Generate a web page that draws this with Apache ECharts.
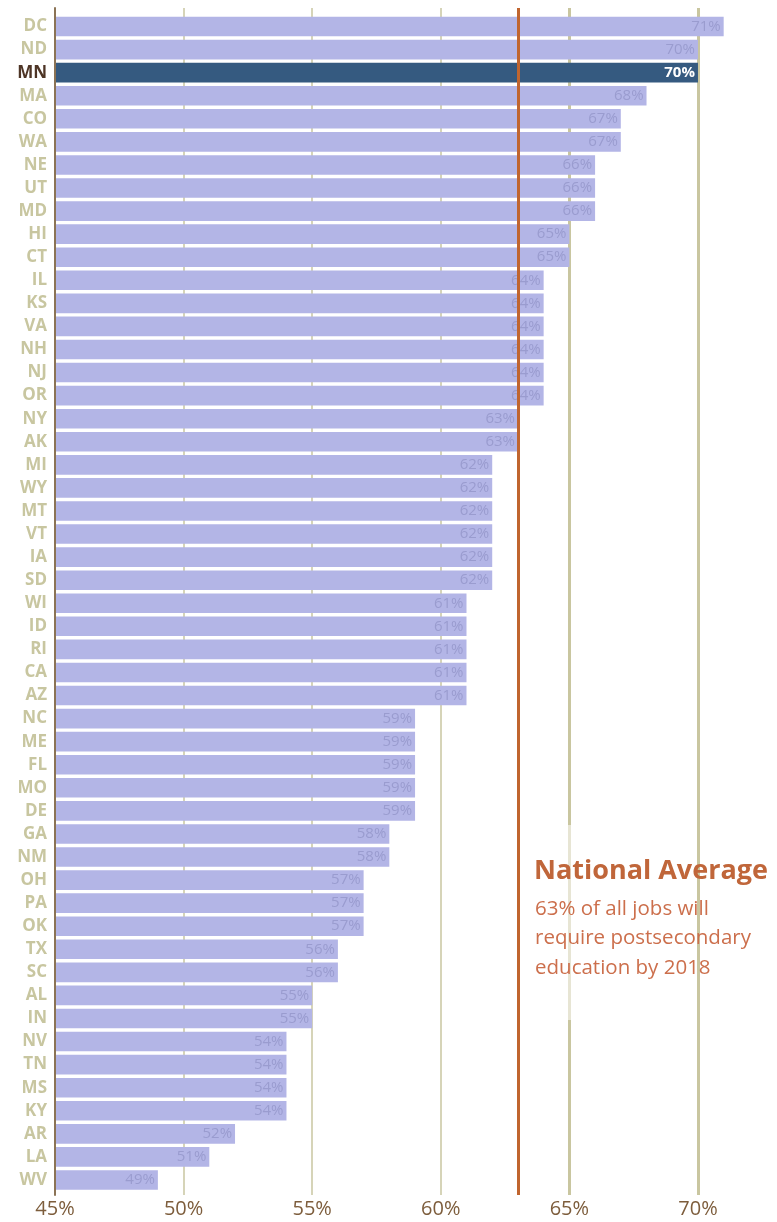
<!DOCTYPE html>
<html>
<head>
<meta charset="utf-8">
<script src="https://cdn.jsdelivr.net/npm/echarts@6/dist/echarts.min.js"></script>
<style>
html,body{margin:0;padding:0;background:#fff;}
#chart{width:777px;height:1222px;}
</style>
</head>
<body>
<div id="chart"></div>
<script>
const states = ['DC','ND','MN','MA','CO','WA','NE','UT','MD','HI','CT','IL','KS','VA','NH','NJ','OR','NY','AK','MI','WY','MT','VT','IA','SD','WI','ID','RI','CA','AZ','NC','ME','FL','MO','DE','GA','NM','OH','PA','OK','TX','SC','AL','IN','NV','TN','MS','KY','AR','LA','WV'];
const values = [71,70,70,68,67,67,66,66,66,65,65,64,64,64,64,64,64,63,63,62,62,62,62,62,62,61,61,61,61,61,59,59,59,59,59,58,58,57,57,57,56,56,55,55,54,54,54,54,52,51,49];
const highlight = 'MN';
const tickValues = [45,50,55,60,65,70];
const nationalAverage = 63;
const noteTitle = 'National Average';
const noteLines = ['63% of all jobs will','require postsecondary','education by 2018'];

const FONT = 'Open Sans';
const GRIDC = '#c9c6a0';
const NONE = 'rgba(0,0,0,0)';
const chart = echarts.init(document.getElementById('chart'));

const barData = states.map((s, i) => {
  const hi = s === highlight;
  return {
    value: values[i],
    itemStyle: { color: hi ? '#355a80' : '#b3b5e6' },
    label: hi ? { color: '#ffffff', fontWeight: 'bold' } : undefined
  };
});

// thin lines at every tick except the axis start; thick overlay on 65 and 70
const thinColors = tickValues.map(v => (v === 45 ? NONE : GRIDC)).concat([NONE]);
const thickColors = tickValues.map(v => (v >= 65 ? GRIDC : NONE)).concat([NONE]);

const XMIN = 45, XMAX = 72;

chart.setOption({
  animation: false,
  grid: [
    { left: 55, right: 27.6, top: 8, bottom: 27 },
    { left: 55, right: 27.6, top: 15, bottom: 30.5 }
  ],
  xAxis: [
    {
      gridIndex: 0, type: 'value', min: XMIN, max: XMAX, interval: 5, position: 'bottom', z: 0,
      axisLine: { show: false }, axisTick: { show: false },
      splitLine: { show: true, showMaxLine: false, lineStyle: { color: thinColors, width: 1.5 } },
      axisLabel: {
        margin: 4, fontFamily: FONT, fontSize: 20, color: '#7d5d3c',
        formatter: v => (v % 5 === 0 ? v + '%' : '')
      }
    },
    {
      gridIndex: 0, type: 'value', min: XMIN, max: XMAX, interval: 5, position: 'top', z: 0,
      axisLine: { show: false }, axisTick: { show: false }, axisLabel: { show: false },
      splitLine: { show: true, showMaxLine: false, lineStyle: { color: thickColors, width: 3 } }
    },
    {
      gridIndex: 1, type: 'value', min: XMIN, max: XMAX, interval: 5, show: false,
      splitLine: { show: false }
    }
  ],
  yAxis: [
    {
      gridIndex: 0, type: 'value', min: 0, max: 1, z: 12,
      axisLine: { show: true, lineStyle: { color: '#8b7355', width: 2 } },
      axisTick: { show: false }, axisLabel: { show: false }, splitLine: { show: false }
    },
    {
      gridIndex: 1, type: 'category', data: states, inverse: true,
      axisLine: { show: false }, axisTick: { show: false }, splitLine: { show: false },
      axisLabel: {
        margin: 8, fontFamily: FONT, fontWeight: 'bold', fontSize: 17,
        color: '#c8c6a0',
        formatter: v => (v === highlight ? '{hi|' + v + '}' : v),
        rich: { hi: { color: '#4e3526', fontWeight: 'bold', fontFamily: FONT, fontSize: 17 } }
      }
    }
  ],
  series: [
    {
      type: 'bar', xAxisIndex: 2, yAxisIndex: 1, data: barData, z: 10,
      barCategoryGap: '15%',
      label: {
        show: true, position: 'insideRight', distance: 3,
        formatter: '{c}%', fontFamily: FONT, fontSize: 15, color: '#9a9ccf'
      }
    },
    {
      type: 'line', xAxisIndex: 0, yAxisIndex: 0, data: [], z: 20,
      markLine: {
        silent: true, z: 20, symbol: 'none', label: { show: false },
        data: [{ xAxis: nationalAverage, lineStyle: { color: '#c0652f', width: 3, type: 'solid' } }]
      }
    }
  ],
  graphic: [
    { type: 'rect', shape: { x: 565, y: 825, width: 8, height: 195 }, style: { fill: 'rgba(255,255,255,0.55)' }, z: 30 },
    { type: 'text', left: 534, top: 858, z: 31,
      style: { text: noteTitle, fontFamily: FONT, fontWeight: 'bold', fontSize: 27, fill: '#c0663a' } },
    { type: 'text', left: 535, top: 894, z: 31,
      style: { text: noteLines.join('\n'), fontFamily: FONT, fontSize: 20.5, lineHeight: 29.5, fill: '#cc6f4c' } }
  ]
});
</script>
</body>
</html>
